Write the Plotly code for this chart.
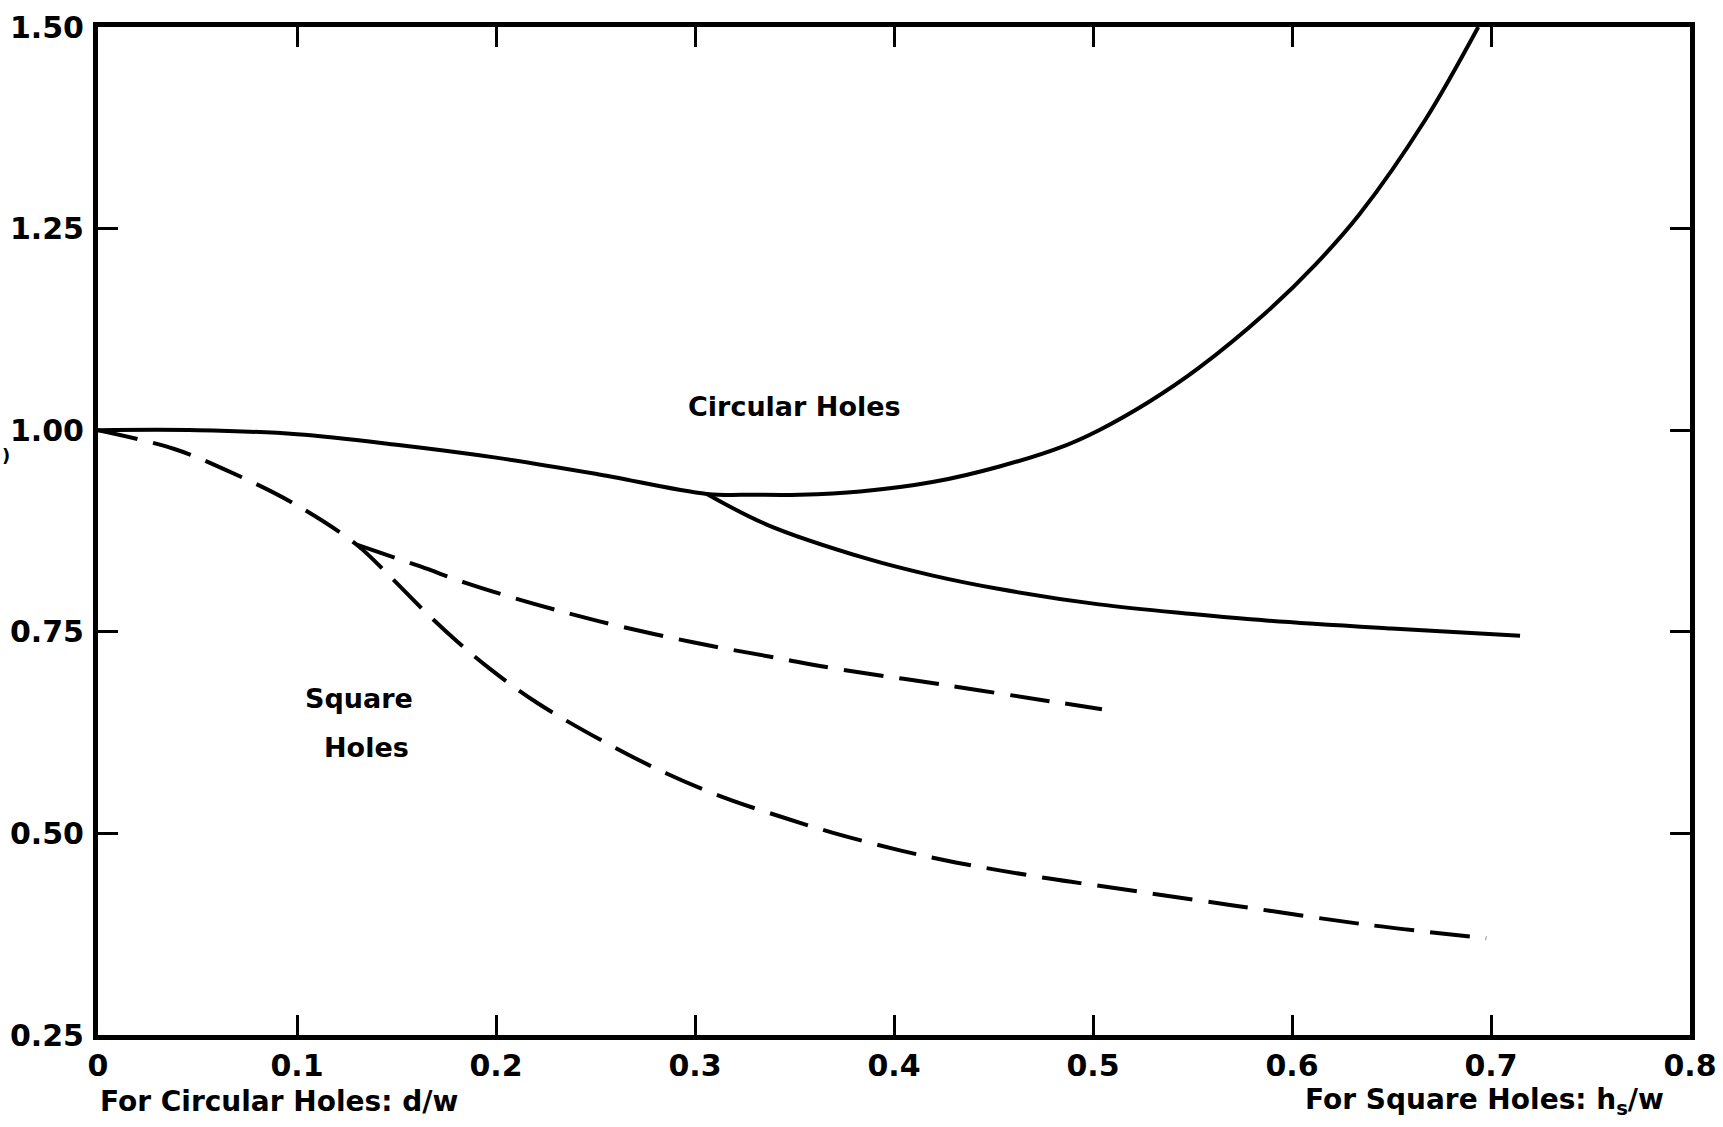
import plotly.graph_objects as go

# Circular holes (solid) - main branch through minimum then rising
circ_upper_x = [0, 0.05, 0.1, 0.15, 0.2, 0.25, 0.306, 0.33, 0.3526, 0.383, 0.42, 0.453, 0.486, 0.503, 0.528, 0.553, 0.587, 0.612, 0.634, 0.667, 0.6936]
circ_upper_y = [1.0, 1.0, 0.995, 0.982, 0.966, 0.946, 0.921, 0.920, 0.920, 0.924, 0.936, 0.955, 0.981, 1.000, 1.035, 1.077, 1.146, 1.206, 1.268, 1.385, 1.50]

# Circular holes (solid) - lower branch
circ_lower_x = [0.306, 0.336, 0.386, 0.419, 0.453, 0.503, 0.55, 0.587, 0.65, 0.7146]
circ_lower_y = [0.921, 0.883, 0.841, 0.820, 0.803, 0.784, 0.772, 0.764, 0.754, 0.745]

# Square holes (dashed) - common part + lower branch
sq_lower_x = [0, 0.038, 0.063, 0.097, 0.13, 0.147, 0.1635, 0.1805, 0.197, 0.2206, 0.257, 0.286, 0.314, 0.344, 0.369, 0.403, 0.431, 0.478, 0.503, 0.5697, 0.637, 0.6976]
sq_lower_y = [1.0, 0.977, 0.952, 0.911, 0.858, 0.818, 0.777, 0.738, 0.704, 0.662, 0.610, 0.574, 0.545, 0.520, 0.501, 0.479, 0.464, 0.444, 0.435, 0.411, 0.387, 0.370]

# Square holes (dashed) - upper branch
sq_upper_x = [0.13, 0.162, 0.1855, 0.2187, 0.252, 0.299, 0.3425, 0.369, 0.423, 0.478, 0.5045]
sq_upper_y = [0.858, 0.831, 0.810, 0.785, 0.763, 0.737, 0.717, 0.705, 0.685, 0.664, 0.654]

x_ticks = [0, 0.1, 0.2, 0.3, 0.4, 0.5, 0.6, 0.7, 0.8]
x_ticklabels = ["0", "0.1", "0.2", "0.3", "0.4", "0.5", "0.6", "0.7", "0.8"]
y_ticks = [0.25, 0.5, 0.75, 1.0, 1.25, 1.5]
y_ticklabels = ["0.25", "0.50", "0.75", "1.00", "1.25", "1.50"]

FONT = "DejaVu Sans"

fig = go.Figure()
solid = dict(color="black", width=4, shape="spline", smoothing=1.0)
dashed = dict(color="black", width=4, dash="40px,16px", shape="spline", smoothing=1.0)

fig.add_trace(go.Scatter(x=circ_upper_x, y=circ_upper_y, mode="lines", line=solid, showlegend=False))
fig.add_trace(go.Scatter(x=circ_lower_x, y=circ_lower_y, mode="lines", line=solid, showlegend=False))
fig.add_trace(go.Scatter(x=sq_lower_x, y=sq_lower_y, mode="lines", line=dashed, showlegend=False))
fig.add_trace(go.Scatter(x=sq_upper_x, y=sq_upper_y, mode="lines", line=dashed, showlegend=False))

tickfont = dict(family=FONT, size=30, color="black", weight="bold")
axis_common = dict(
    showline=True, linewidth=5, linecolor="black", mirror="ticks",
    ticks="inside", ticklen=20, tickwidth=3, tickcolor="black",
    showgrid=False, zeroline=False, tickfont=tickfont, automargin=False,
)
fig.update_xaxes(range=[0, 0.8], tickvals=x_ticks, ticktext=x_ticklabels, ticklabelstandoff=0, **axis_common)
fig.update_yaxes(range=[0.25, 1.5], tickvals=y_ticks, ticktext=y_ticklabels, ticklabelstandoff=3, **axis_common)

annfont = dict(family=FONT, size=27, color="black", weight="bold")
titlefont = dict(family=FONT, size=28, color="black", weight="bold")
fig.add_annotation(x=0.350, y=1.030, text="Circular Holes", showarrow=False, font=annfont)
fig.add_annotation(x=0.131, y=0.667, text="Square", showarrow=False, font=annfont)
fig.add_annotation(x=0.135, y=0.606, text="Holes", showarrow=False, font=annfont)
fig.add_annotation(xref="paper", yref="paper", x=0.0, y=-0.066, xanchor="left", yanchor="middle",
                   text="For Circular Holes: d/w", showarrow=False, font=titlefont)
fig.add_annotation(xref="paper", yref="paper", x=0.985, y=-0.066, xanchor="right", yanchor="middle",
                   text="For Square Holes: h<sub>s</sub>/w", showarrow=False, font=titlefont)
fig.add_annotation(xref="paper", yref="paper", x=-0.058, y=0.575, xanchor="center", yanchor="middle",
                   text=")", showarrow=False, font=dict(family=FONT, size=18, color="black", weight="bold"))

fig.update_layout(
    width=1723, height=1127,
    margin=dict(l=98, r=33, t=27, b=92),
    paper_bgcolor="white", plot_bgcolor="white",
)
fig.write_html("out.html")
